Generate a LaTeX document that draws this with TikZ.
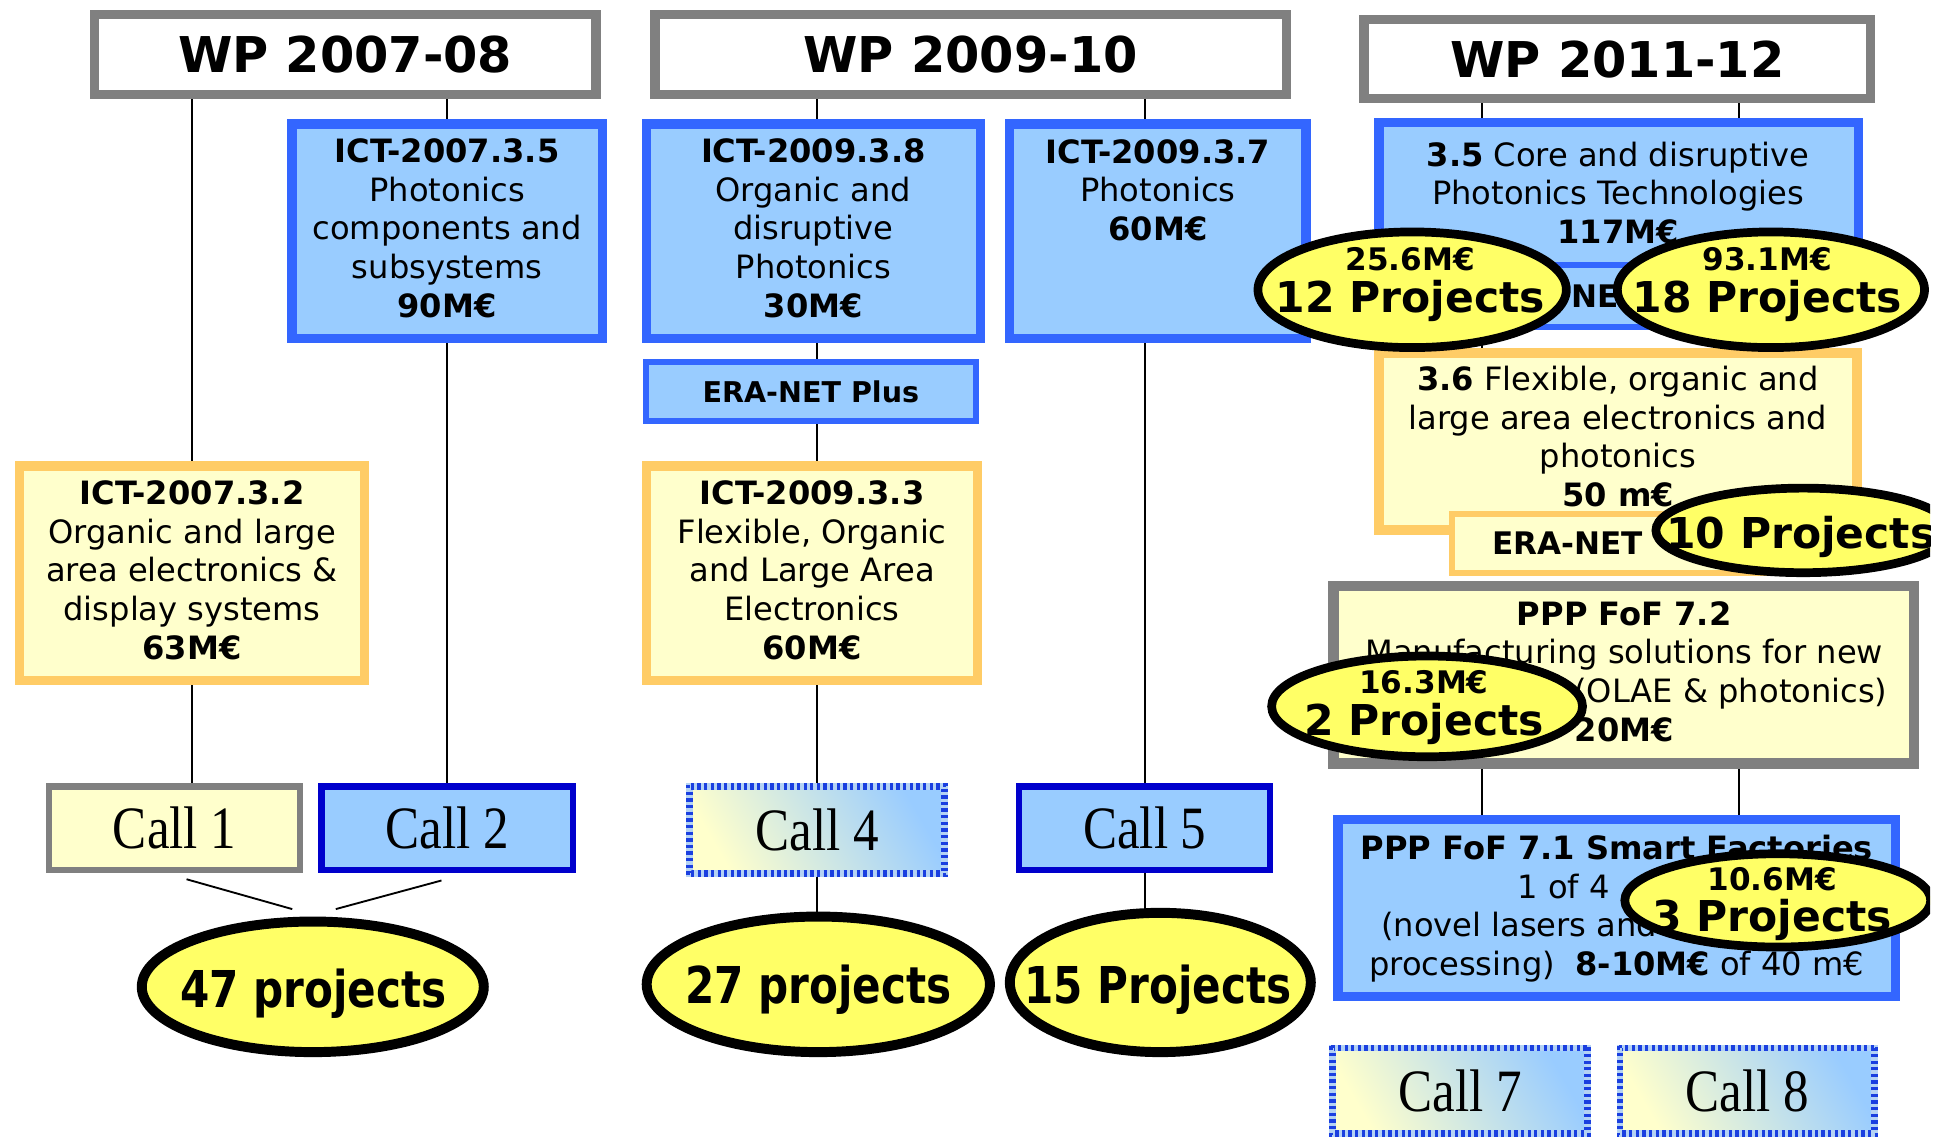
\documentclass[tikz,border=0pt]{standalone}
\usepackage{fontspec}
\setmainfont{DejaVu Sans}
\newfontfamily\tnr{Liberation Serif}
\usetikzlibrary{shapes.geometric,calc,shadings}
\definecolor{lyel}{HTML}{FFFFCC}
\definecolor{lblue}{HTML}{99CCFF}
\definecolor{bbord}{HTML}{3366FF}
\definecolor{obord}{HTML}{FFCC66}
\definecolor{gbord}{HTML}{808080}
\definecolor{dblue}{HTML}{0000CC}
\definecolor{pyel}{HTML}{FFFF66}
\definecolor{chkbase}{HTML}{B4D2F4}
\definecolor{chkblue}{HTML}{1A3FE0}
\pgfdeclarelayer{bg}
\pgfsetlayers{bg,main}
\newcommand\boxfont{\fontsize{15.5}{18.6}\selectfont}
\newcommand\titlefont{\fontsize{23.8}{28}\selectfont\bfseries}
\newcommand\callfont{\tnr\fontsize{29}{30}\selectfont}
\newcommand\projfont{\fontsize{20.5}{20}\selectfont\bfseries}
\newcommand\bigprojfont{\fontsize{24.5}{26}\selectfont\bfseries}
\newcommand\callx[1]{\scalebox{0.85}[1]{#1}}
\newcommand\condx[1]{\scalebox{0.83}[1]{#1}}
\newcommand\mtwo[2]{{\fontsize{15}{20}\selectfont #1}\\#2}
\newcommand\chkborder[1]{%
  \draw[chkblue, line width=1.6pt, dash pattern=on 1.6pt off 1.6pt]
    ($(#1.north west)+(-0.8pt,0.8pt)$) rectangle ($(#1.south east)+(0.8pt,-0.8pt)$);
  \draw[chkblue, line width=1.6pt, dash pattern=on 1.6pt off 1.6pt, dash phase=1.6pt]
    ($(#1.north west)+(0.8pt,-0.8pt)$) rectangle ($(#1.south east)+(-0.8pt,0.8pt)$);}
\tikzset{
  every node/.style={outer sep=0pt, inner sep=0pt},
  sz/.style 2 args={minimum width=#1*0.6pt, minimum height=#2*0.6pt},
  wpbox/.style={draw=gbord, fill=white, line width=4.5pt, font=\titlefont},
  bluebox/.style={draw=bbord, fill=lblue, line width=4.5pt, align=center, font=\boxfont},
  orbox/.style={draw=obord, fill=lyel, line width=4.5pt, align=center, font=\boxfont},
  graybox/.style={draw=gbord, fill=lyel, line width=5pt},
  erablue/.style={draw=bbord, fill=lblue, line width=2.8pt},
  eraor/.style={draw=obord, fill=lyel, line width=2.8pt},
  txt/.style={align=center, font=\boxfont},
  eratxt/.style={font=\fontsize{15}{18}\selectfont\bfseries, anchor=west},
  callplain/.style={line width=3pt, font=\callfont},
  callchk/.style={draw=chkbase, line width=3.2pt, left color=lyel, right color=lblue, shading angle=120, font=\callfont},
  projbig/.style={ellipse, draw=black, fill=pyel, line width=4.8pt},
  projsm/.style={ellipse, draw=black, fill=pyel, line width=4.2pt},
  projtxt/.style={align=center, font=\projfont},
  bigtxt/.style={font=\bigprojfont, text depth=0pt},
  onetxt/.style={font=\projfont, text depth=0pt},
  conn/.style={draw=black, line width=0.9pt},
}
\begin{document}
\begin{tikzpicture}[x=0.6pt, y=-0.6pt]
\useasboundingbox (0,0) rectangle (1568,916);
\begin{scope}
\clip (0,0) rectangle (1552,916);
% work programme headers
\node[wpbox, sz={403.5}{64.5}] (wpA) at (277.5,44) {WP 2007-08};
\node[wpbox, sz={507.5}{64.5}] (wpB) at (780.5,44) {WP 2009-10};
\node[wpbox, sz={407.5}{63.5}] (wpC) at (1300.5,47.5) {WP 2011-12};
% WP 2007-08
\node[bluebox, sz={249.5}{172.5}] (ict35) at (359.5,186) {};
\node[txt] (t35a) at (359.5,183.5)
  {\textbf{ICT-2007.3.5}\\Photonics\\components and\\subsystems\\\textbf{90M€}};
\node[orbox, sz={277.5}{172.5}] (ict32) at (154.5,461) {};
\node[txt] (t32a) at (154.5,458.5)
  {\textbf{ICT-2007.3.2}\\Organic and large\\area electronics \&\\display systems\\\textbf{63M€}};
% WP 2009-10
\node[bluebox, sz={268.5}{172.5}] (ict38) at (654,186) {};
\node[txt] (t38a) at (654,183.5)
  {\textbf{ICT-2009.3.8}\\Organic and\\disruptive\\Photonics\\\textbf{30M€}};
\node[erablue, sz={265.3}{47.3}, font=\fontsize{13.8}{16}\selectfont\bfseries] (eraplus) at (652,315) {ERA-NET Plus};
\node[orbox, sz={266.5}{172.5}] (ict33) at (653,461) {};
\node[txt] (t33a) at (653,458.5)
  {\textbf{ICT-2009.3.3}\\Flexible, Organic\\and Large Area\\Electronics\\\textbf{60M€}};
\node[bluebox, sz={238.5}{172.5}] (ict37) at (931,186) {};
\node[txt] (t37) at (931,153) {\textbf{ICT-2009.3.7}\\Photonics\\\textbf{60M€}};
% WP 2011-12
\node[bluebox, sz={385.5}{162.5}] (b35) at (1301.5,180) {};
\node[txt] (t35) at (1301,155) {\textbf{3.5} Core and disruptive\\Photonics Technologies\\\textbf{117M€}};
\node[erablue, sz={275.3}{49.3}] (erab) at (1305,238) {};
\node[eratxt] (terab) at (1264,238) {NE};
\node[orbox, sz={384.5}{142.5}] (b36) at (1301,355) {};
\node[txt] (t36) at (1301,351) {\textbf{3.6} Flexible, organic and\\large area electronics and\\photonics\\\textbf{50 m€}};
\node[eraor, sz={275.3}{47.3}] (era36) at (1305,437) {};
\node[eratxt] (tera36) at (1200,437) {ERA-NET};
\node[graybox, sz={466.7}{142.7}] (p72) at (1305.5,542.5) {};
\node[txt] (t72) at (1306,540) {\textbf{PPP FoF 7.2}\\Manufacturing solutions for new\\\hspace*{103pt}(OLAE \& photonics)\\\textbf{20M€}};
\node[bluebox, sz={448.5}{142.5}] (p71) at (1300,730) {};
\node[txt] (t71) at (1300,730.5) {\textbf{PPP FoF 7.1 Smart Factories}\\1 of 4 \phantom{topics}\\(novel lasers and \phantom{laser-based}\\processing)~~\textbf{8-10M€} of 40 m€};
% calls
\node[callplain, draw=gbord, fill=lyel, sz={202}{67}] (call1) at (140.5,666) {\callx{Call 1}};
\node[callplain, draw=dblue, fill=lblue, sz={202}{67}] (call2) at (359.5,666) {\callx{Call 2}};
\node[callchk, sz={204.7}{69.7}] (call4) at (657,667.5) {\callx{Call 4}};
\chkborder{call4}
\node[callplain, draw=dblue, fill=lblue, sz={202}{67}] (call5) at (920.5,666) {\callx{Call 5}};
\node[callchk, sz={204.7}{68.7}] (call7) at (1174,877) {\callx{Call 7}};
\chkborder{call7}
\node[callchk, sz={204.7}{68.7}] (call8) at (1405,877) {\callx{Call 8}};
\chkborder{call8}
% project ellipses
\node[projbig, sz={275}{105}] (e47) at (251.5,793.5) {};
\node[bigtxt] (t47) at (252,795) {\condx{47 projects}};
\node[projbig, sz={276}{109}] (e27) at (658,791.5) {};
\node[bigtxt] (t27) at (658,791) {\condx{27 projects}};
\node[projbig, sz={242}{112}] (e15) at (933,790) {};
\node[bigtxt] (t15) at (931,791) {\condx{15 Projects}};
\node[projsm, sz={248}{93}] (e12) at (1135.5,233) {};
\node[projtxt] (t12) at (1134,228.7) {\mtwo{25.6M€}{12 Projects}};
\node[projsm, sz={247}{93}] (e18) at (1424,233) {};
\node[projtxt] (t18) at (1421,228.7) {\mtwo{93.1M€}{18 Projects}};
\node[projsm, sz={237}{68}] (e10) at (1450,426.5) {};
\node[onetxt] (t10) at (1448,428) {10 Projects};
\node[projsm, sz={250}{81}] (e2) at (1147.5,568) {};
\node[projtxt] (t2) at (1145,569) {\mtwo{16.3M€}{2 Projects}};
\node[projsm, sz={246}{75}] (e3) at (1429.5,724) {};
\node[projtxt] (t3) at (1425,727) {\mtwo{10.6M€}{3 Projects}};
% free ends and column guides
\coordinate (cA) at (1192,0);
\coordinate (cB) at (1398,0);
\coordinate (d1s) at (150,707);
\coordinate (d1e) at (235,731);
\coordinate (d2s) at (355,708);
\coordinate (d2e) at (270,731);
% connectors
\begin{pgfonlayer}{bg}
\draw[conn] (wpA.south -| ict32) -- (ict32.north);
\draw[conn] (ict32.south) -- (ict32.south |- call1.north);
\draw[conn] (wpA.south -| ict35) -- (ict35.north);
\draw[conn] (ict35.south) -- (ict35.south |- call2.north);
\draw[conn] (d1s) -- (d1e);
\draw[conn] (d2s) -- (d2e);
\draw[conn] (wpB.south -| call4) -- (ict38.north -| call4);
\draw[conn] (ict38.south -| call4) -- (eraplus.north -| call4);
\draw[conn] (eraplus.south -| call4) -- (ict33.north -| call4);
\draw[conn] (ict33.south -| call4) -- (call4.north);
\draw[conn] (call4.south) -- (e27.north -| call4);
\draw[conn] (wpB.south -| call5) -- (ict37.north -| call5);
\draw[conn] (ict37.south -| call5) -- (call5.north);
\draw[conn] (call5.south) -- (e15.north -| call5);
\draw[conn] (wpC.south -| cA) -- (b35.north -| cA);
\draw[conn] (wpC.south -| cB) -- (b35.north -| cB);
\draw[conn] (b35.south -| cA) -- (b36.north -| cA);
\draw[conn] (b35.south -| cB) -- (b36.north -| cB);
\draw[conn] (p72.south -| cA) -- (p71.north -| cA);
\draw[conn] (p72.south -| cB) -- (p71.north -| cB);
\end{pgfonlayer}
\end{scope}
\end{tikzpicture}
\end{document}
